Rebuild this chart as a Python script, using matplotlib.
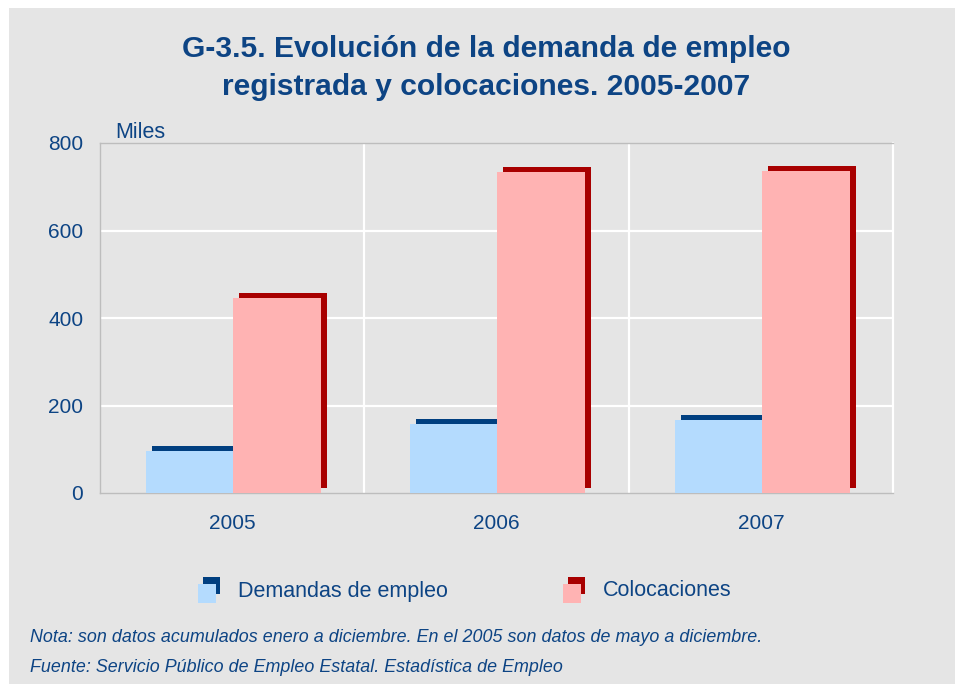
import matplotlib
matplotlib.use("Agg")
import matplotlib.pyplot as plt
from matplotlib.patches import Rectangle
from matplotlib.transforms import ScaledTranslation
import numpy as np

years = ["2005", "2006", "2007"]
demandas = [96, 158, 167]
colocaciones = [446, 734, 736]
yticks = [0, 200, 400, 600, 800]
series_names = ["Demandas de empleo", "Colocaciones"]

TXT = "#0d4484"
BG = "#e5e5e5"
BLUE, BLUE_D = "#b4dbfe", "#003f80"
PINK, PINK_D = "#ffb3b3", "#a80000"

plt.rcParams['font.family'] = ['Liberation Sans', 'DejaVu Sans']

fig = plt.figure(figsize=(9.55, 6.84), dpi=100)
fig.patch.set_facecolor("white")
fig.patches.append(Rectangle((9/955, 0), 1, 1 - 8/684, transform=fig.transFigure,
                             facecolor=BG, edgecolor="none", zorder=-10))

ax = fig.add_axes([100/955, 1 - 493/684, 793/955, 350/684])
ax.set_facecolor(BG)
ax.set_xlim(-0.5, 2.5)
ax.set_ylim(0, 800)

x = np.arange(len(years))
w = 0.333
off_b, off_p = -0.16, 0.17
shadow = ax.transData + ScaledTranslation(6/100, 5/100, fig.dpi_scale_trans)

ax.bar(x + off_b, demandas, width=w, color=BLUE_D, transform=shadow, zorder=2)
ax.bar(x + off_b, demandas, width=w, color=BLUE, zorder=3)
ax.bar(x + off_p, colocaciones, width=w, color=PINK_D, transform=shadow, zorder=4)
ax.bar(x + off_p, colocaciones, width=w, color=PINK, zorder=5)

for yv in yticks[1:-1]:
    ax.axhline(yv, color="white", lw=1.6, zorder=1)
for xv in [0.5, 1.5]:
    ax.axvline(xv, color="white", lw=1.6, zorder=1)

for s in ["left", "top", "bottom"]:
    ax.spines[s].set_color("#bdbdbd")
    ax.spines[s].set_linewidth(1.0)
ax.spines["right"].set_color("white")
ax.spines["right"].set_linewidth(1.6)

ax.set_yticks(yticks)
ax.set_yticklabels([str(v) for v in yticks])
ax.set_xticks(x)
ax.set_xticklabels(years)
ax.tick_params(axis="both", length=0, colors=TXT, labelsize=15)
ax.tick_params(axis="y", pad=12)
ax.tick_params(axis="x", pad=15)

fig.text(115/955, 1 - 132/684, "Miles", color=TXT, fontsize=15.5, va="center", ha="left")

fig.text(486/955, 1 - 68/684, "G-3.5. Evolución de la demanda de empleo\nregistrada y colocaciones. 2005-2007",
         ha="center", va="center", color=TXT, fontsize=21.6, fontweight="bold", linespacing=1.45)

# legend
def legend_item(x0, front, back, label):
    fig.patches.append(Rectangle((x0 + 5/955, 1 - 594/684), 17/955, 17/684,
                                 transform=fig.transFigure, facecolor=back, edgecolor="none"))
    fig.patches.append(Rectangle((x0, 1 - 603/684), 18/955, 19/684,
                                 transform=fig.transFigure, facecolor=front, edgecolor="none"))
    fig.text(x0 + 40/955, 1 - 591/684, label, color=TXT, fontsize=15.5, va="center", ha="left")

legend_item(198/955, BLUE, BLUE_D, series_names[0])
legend_item(563/955, PINK, PINK_D, series_names[1])

notefont = ['Liberation Sans Narrow', 'Liberation Sans', 'DejaVu Sans']
fig.text(30/955, 1 - 637/684,
         "Nota: son datos acumulados enero a diciembre. En el 2005 son datos de mayo a diciembre.",
         color=TXT, fontsize=12.9, style="italic", family=notefont, va="center")
fig.text(30/955, 1 - 667/684,
         "Fuente: Servicio Público de Empleo Estatal. Estadística de Empleo",
         color=TXT, fontsize=12.9, style="italic", family=notefont, va="center")

fig.savefig("out.png", dpi=100, facecolor=fig.get_facecolor())
